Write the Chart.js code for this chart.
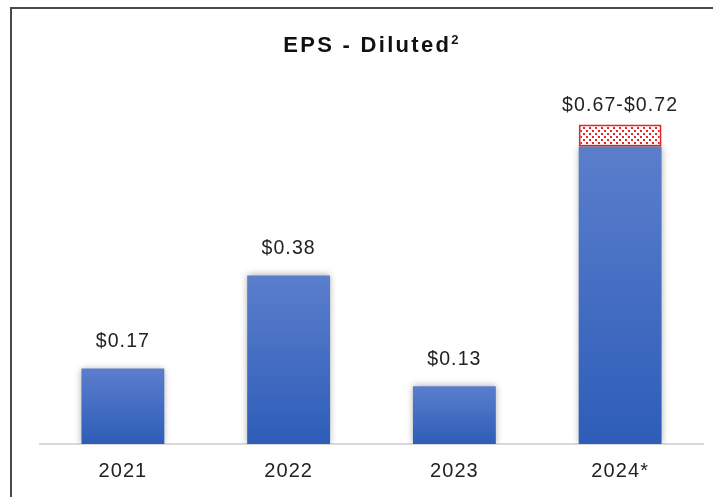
<!DOCTYPE html>
<html><head><meta charset="utf-8">
<script src="https://cdn.jsdelivr.net/npm/chart.js@4"></script>
<style>
html,body{margin:0;padding:0;background:#fff;width:713px;height:497px;overflow:hidden;}
#frame{position:absolute;left:10px;top:7px;width:760px;height:560px;border:2px solid #4a4a4a;box-sizing:border-box;}
#wrap{position:absolute;left:0;top:0;width:713px;height:497px;}
</style></head><body>
<div id="frame"></div>
<div id="wrap"><canvas id="c" width="713" height="497"></canvas></div>
<script>
const categories = ['2021', '2022', '2023', '2024*'];
const epsBase = [0.17, 0.38, 0.13, 0.67];
const guidanceRange = [0, 0, 0, 0.05];
const valueLabels = ['$0.17', '$0.38', '$0.13', '$0.67-$0.72'];
const chartTitle = 'EPS - Diluted';
const titleSup = '2';
const FONT = '"Liberation Sans", Arial, sans-serif';

function dotPattern() {
  const p = document.createElement('canvas');
  p.width = 6; p.height = 6;
  const g = p.getContext('2d');
  g.fillStyle = '#ffffff'; g.fillRect(0, 0, 6, 6);
  g.fillStyle = '#e8262a';
  g.fillRect(1, 1, 2, 2);
  g.fillRect(4, 4, 2, 2);
  return g.createPattern(p, 'repeat');
}

function barGradient(ctx) {
  const chart = ctx.chart;
  const area = chart.chartArea;
  if (!area) return '#4169c0';
  const y = chart.scales.y;
  const v = ctx.parsed ? ctx.parsed.y : epsBase[ctx.dataIndex];
  const top = y.getPixelForValue(v);
  const bottom = y.getPixelForValue(0);
  if (!isFinite(top) || top === bottom) return '#4169c0';
  const gr = chart.ctx.createLinearGradient(0, top, 0, bottom);
  gr.addColorStop(0, '#5b7ecc');
  gr.addColorStop(1, '#2d5db8');
  return gr;
}

const spacingPlugin = {
  id: 'spacing',
  beforeDraw(chart) { chart.ctx.letterSpacing = '1.1px'; }
};

const shadowPlugin = {
  id: 'shadow',
  beforeDatasetDraw(chart, args) {
    if (args.index === 0) {
      chart.ctx.save();
      chart.ctx.shadowColor = 'rgba(0,0,0,0.35)';
      chart.ctx.shadowBlur = 7;
    }
  },
  afterDatasetDraw(chart, args) {
    if (args.index === 0) chart.ctx.restore();
  }
};

const labelPlugin = {
  id: 'valueLabels',
  afterDatasetsDraw(chart) {
    const ctx = chart.ctx;
    const y = chart.scales.y;
    const x = chart.scales.x;
    ctx.save();
    ctx.letterSpacing = '1.1px';
    ctx.font = '19.5px ' + FONT;
    ctx.fillStyle = '#222';
    ctx.textAlign = 'center';
    ctx.textBaseline = 'middle';
    categories.forEach((c, i) => {
      const total = epsBase[i] + guidanceRange[i];
      const py = y.getPixelForValue(total);
      const off = guidanceRange[i] > 0 ? 19 : 27;
      ctx.fillText(valueLabels[i], x.getPixelForValue(i), py - off);
    });
    // title with superscript
    ctx.textBaseline = 'alphabetic';
    ctx.textAlign = 'left';
    ctx.fillStyle = '#111';
    ctx.letterSpacing = '2.3px';
    ctx.font = 'bold 22px ' + FONT;
    const w1 = ctx.measureText(chartTitle).width;
    ctx.font = 'bold 13px ' + FONT;
    const w2 = ctx.measureText(titleSup).width;
    const x0 = 372 - (w1 + w2) / 2;
    ctx.font = 'bold 22px ' + FONT;
    ctx.fillText(chartTitle, x0, 52);
    ctx.font = 'bold 13px ' + FONT;
    ctx.fillText(titleSup, x0 + w1, 44);
    ctx.restore();
  }
};

new Chart(document.getElementById('c'), {
  type: 'bar',
  data: {
    labels: categories,
    datasets: [
      { data: epsBase, backgroundColor: barGradient, borderWidth: 0, stack: 's',
        barPercentage: 0.5, categoryPercentage: 1 },
      { data: guidanceRange, backgroundColor: dotPattern(), borderColor: '#e8262a', borderWidth: 2,
        borderSkipped: false, stack: 's', barPercentage: 0.5, categoryPercentage: 1 }
    ]
  },
  options: {
    responsive: false,
    animation: false,
    devicePixelRatio: 1,
    layout: { padding: { left: 40, right: 10, top: 89, bottom: 7 } },
    plugins: {
      legend: { display: false },
      tooltip: { enabled: false },
      title: { display: false }
    },
    scales: {
      x: {
        stacked: true,
        grid: { display: false },
        border: { display: true, color: '#d9d9d9', width: 2 },
        ticks: { color: '#222', padding: 7, font: { family: FONT, size: 20 } }
      },
      y: { stacked: true, display: false, min: 0, max: 0.8 }
    }
  },
  plugins: [spacingPlugin, shadowPlugin, labelPlugin]
});
</script>
</body></html>
